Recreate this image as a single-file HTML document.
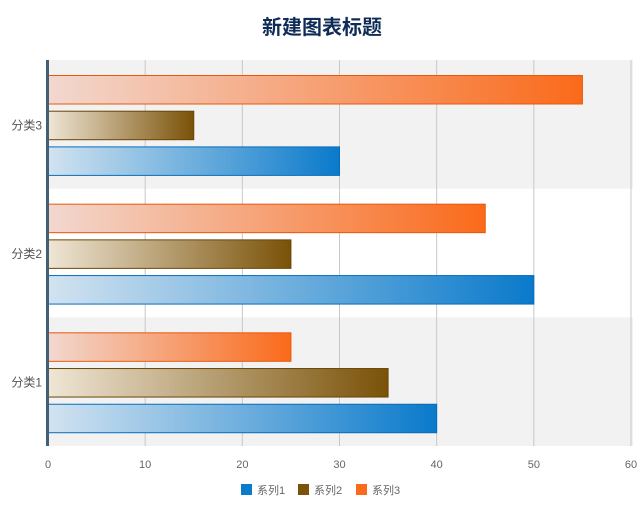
<!DOCTYPE html>
<html><head><meta charset="utf-8"><style>
body{margin:0;background:#fff;font-family:"Liberation Sans","Noto Sans CJK SC",sans-serif;}
svg text{font-family:"Liberation Sans","Noto Sans CJK SC",sans-serif;}
</style></head><body>
<svg id="c" width="643" height="504">
<defs>
<linearGradient id="g1"><stop offset="0" stop-color="#d2e3f0"/><stop offset="1" stop-color="#0a7acb"/></linearGradient>
<linearGradient id="g2"><stop offset="0" stop-color="#efe6d6"/><stop offset="1" stop-color="#7a5208"/></linearGradient>
<linearGradient id="g3"><stop offset="0" stop-color="#f2d8d0"/><stop offset="1" stop-color="#fa6a1a"/></linearGradient>
</defs>
<text x="322" y="34" text-anchor="middle" font-size="20" font-weight="bold" fill="#0f2c57">新建图表标题</text>
</svg>
<script>
const categories=["分类1","分类2","分类3"];
const series1=[40,50,30];
const series2=[35,25,15];
const series3=[25,45,55];
const ticks=[0,10,20,30,40,50,60];
const seriesNames=["系列1","系列2","系列3"];
const svg=document.getElementById('c');
const NS='http://www.w3.org/2000/svg';
const x0=48,x1=631,yTop=60,yBot=446,xMax=60;
const xs=v=>x0+(x1-x0)*v/xMax;
const bandH=(yBot-yTop)/categories.length;
const bandTop=i=>yBot-(i+1)*bandH;
function mk(t,a){const e=document.createElementNS(NS,t);for(const k in a)e.setAttribute(k,a[k]);svg.appendChild(e);return e;}
categories.forEach((c,i)=>{
 if(i%2===0){const r=mk('rect',{x:x0,y:bandTop(i),width:x1-x0+2,height:bandH,fill:'#f2f2f2'});
 
 }
});
ticks.forEach(t=>{
 const l=mk('line',{x1:xs(t),x2:xs(t),y1:yTop,y2:yBot,stroke:'#c8c8c8','stroke-width':1});
 
 
 const tx=mk('text',{x:xs(t),y:468,'text-anchor':'middle','font-size':11,fill:'#666'});
 tx.textContent=t;
 
 
});
const sets=[[series3,'url(#g3)','#e8580c',0],[series2,'url(#g2)','#6a4404',1],[series1,'url(#g1)','#0a6cb8',2]];
categories.forEach((c,i)=>{
 const bt=bandTop(i);
 sets.forEach(([arr,fill,st,k])=>{
  const y=bt+15.5+k*35.7;
  const r=mk('rect',{x:x0,y:y,width:xs(arr[i])-x0,height:28.5,fill:fill,stroke:st,'stroke-width':1});
  
  
 });
 const t=mk('text',{x:42,y:bt+bandH/2+5,'text-anchor':'end','font-size':12,fill:'#555'});
 t.textContent=c;
 
 
});
const ax=mk('rect',{x:46,y:yTop,width:3,height:yBot-yTop,fill:'#445f73'});


const lc=['#0a7acb','#7a5208','#fa6a1a'];const lx=[241,298,356];
seriesNames.forEach((n,i)=>{
 const r=mk('rect',{x:lx[i],y:484,width:11,height:11,fill:lc[i]});
 
 
 const t=mk('text',{x:lx[i]+16,y:494,'font-size':11,fill:'#666'});
 t.textContent=n;
 
 
});
</script>
</body></html>
